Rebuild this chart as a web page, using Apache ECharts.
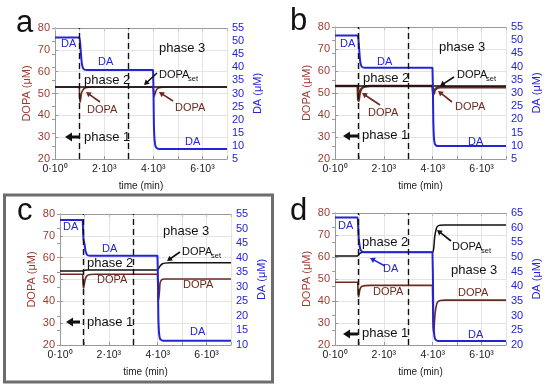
<!DOCTYPE html>
<html><head><meta charset="utf-8">
<script src="https://cdn.jsdelivr.net/npm/echarts@6/dist/echarts.min.js"></script>
<style>html,body{margin:0;padding:0;background:#fff}#c{width:550px;height:390px}</style>
</head><body><div id="c"></div>
<script>
// ---- data ----
var timeA   = [0,990,1000,1010,1025,1050,1075,1100,1150,1200,1300,1500,2000,3000,3990,4000,4010,4025,4050,4075,4100,4150,4200,4300,4500,5000,6000,7000];
var timeBCD = [0,930,940,950,965,990,1015,1040,1090,1140,1240,1440,2000,3000,3990,4000,4010,4025,4050,4075,4100,4150,4200,4300,4500,5000,6000,7000];
var phaseA = [1000, 3000];
var phaseBCD = [940, 3000];

var daA   = [51.4,51.4,51.4,50.5,49,46,43,41,39.5,39.1,39,39,39,39,39,39,30,18,12.5,10.5,9.7,9.1,8.9,8.8,8.8,8.8,8.8,8.8];
var setA  = [53,53,53,53,53,53,53,53,53,53,53,53,53,53,53,53,53,53,53,53,53,53,53,53,53,53,53,53];
var dopaA = [53,53,53,47,46,48,49.8,50.8,51.8,52.4,52.8,53,53,53,53,53,51,48.5,48.5,50,51,52,52.5,52.8,53,53,53,53];

var daB   = [51.8,51.8,51.8,51,49.5,46.5,43.5,41.5,40,39.7,39.6,39.6,39.6,39.6,39.6,39.6,30,19,13,11.2,10.5,10.1,9.9,9.9,9.9,9.9,9.9,9.9];
var setB  = [53.2,53.2,53.2,53.2,53.2,53.2,53.2,53.2,53.2,53.2,53.2,53.2,53.2,53.2,53.2,53.2,53.2,53.2,53.2,53.2,53.2,53.2,53.2,53.2,53.2,53.2,53.2,53.2];
var dopaB = [53.2,53.2,53.2,47.5,46.5,48.5,50,51,52,52.5,53,53.2,53.2,53.2,53.2,53.2,51,49.5,50,51,51.6,52.1,52.4,52.6,52.6,52.6,52.6,52.6];

var daC   = [52.9,52.9,52.9,48,46,45.2,44,42.5,41.2,40.8,40.7,40.7,40.7,40.7,40.7,40.7,32,20,14.5,12.8,12.1,11.7,11.5,11.5,11.5,11.5,11.5,11.5];
var setC  = [53.9,53.9,53.9,53.9,54,54.1,54.2,54.25,54.3,54.35,54.4,54.4,54.4,54.4,54.4,54.4,54.5,54.8,55.3,55.8,56.2,56.8,57.2,57.5,57.7,57.7,57.7,57.7];
var dopaC = [52.4,52.4,52.4,47,46,47.5,49,50.3,51.5,52,52.3,52.4,52.4,52.4,52.4,52.4,45,40,42,45,48.7,49.7,50.1,50.2,50.2,50.2,50.2,50.2];

var daD   = [63.5,63.5,63.5,60,57,55,53.5,52.6,52,51.7,51.6,51.6,51.6,51.6,51.6,51.6,42,30,24.5,22.8,22,21.6,21.4,21.4,21.4,21.4,21.4,21.4];
var setD  = [60.5,60.5,60.5,60.6,60.9,61.3,61.6,61.8,62,62.1,62.2,62.2,62.2,62.2,62.2,62.2,62.4,62.8,65,68.5,70.5,73,74,74.4,74.5,74.5,74.5,74.5];
var dopaD = [48.5,48.5,48.5,43,42,43.5,45,45.8,46.5,46.8,47,47.1,47.1,47.1,47.1,47.1,32,26,27,31,34.5,38,39.5,40.2,40.4,40.4,40.4,40.4];

var xTicks = {0:'0·10⁰', 2000:'2·10³', 4000:'4·10³', 6000:'6·10³'};
var daRanges = [[5,55],[5,55],[10,55],[20,65]];

// ---- layout ----
var grids = [
  {left:55, top:28, width:172, height:131},
  {left:335, top:27, width:171, height:132},
  {left:60, top:214, width:171, height:131},
  {left:335, top:213, width:171, height:132}
];
var BLUE='#2424d4', BROWN='#6b2a20', LBR='#9c3a2e';
var FONT='Liberation Sans';

function zip(t,v){return t.map(function(x,i){return [x,v[i]];});}
var panels = [
  {t:timeA, ph:phaseA, da:daA, set:setA, dopa:dopaA},
  {t:timeBCD, ph:phaseBCD, da:daB, set:setB, dopa:dopaB},
  {t:timeBCD, ph:phaseBCD, da:daC, set:setC, dopa:dopaC},
  {t:timeBCD, ph:phaseBCD, da:daD, set:setD, dopa:dopaD}
];

var xAxes=[], yAxes=[], series=[];
panels.forEach(function(p,i){
  xAxes.push({gridIndex:i, type:'value', min:0, max:7000, interval:1000,
    name:'time (min)', nameLocation:'middle', nameGap:22,
    nameTextStyle:{fontFamily:FONT, fontSize:10, color:'#222'},
    axisLine:{lineStyle:{color:'#999'}}, axisTick:{inside:true, length:3, lineStyle:{color:'#999'}},
    splitLine:{show:true, lineStyle:{color:'#e4e4e4'}},
    axisLabel:{fontFamily:FONT, fontSize:10.5, color:'#222', margin:5,
      formatter:function(v){return xTicks[v]!==undefined?xTicks[v]:'';}}
  });
  // top border
  xAxes.push({gridIndex:i, type:'value', min:0, max:7000, interval:1000, position:'top',
    axisLine:{onZero:false, lineStyle:{color:'#999'}}, axisTick:{inside:true,length:3,lineStyle:{color:'#bbb'}},
    axisLabel:{show:false}, splitLine:{show:false}});
  yAxes.push({gridIndex:i, type:'value', min:20, max:80, interval:10, position:'left',
    name:'DOPA (μM)', nameLocation:'middle', nameGap:23, nameRotate:90,
    nameTextStyle:{fontFamily:FONT, fontSize:11, color:LBR},
    axisLine:{show:true, lineStyle:{color:'#999'}}, axisTick:{show:true, inside:true, length:3, lineStyle:{color:'#999'}},
    splitLine:{show:true, lineStyle:{color:'#e4e4e4'}},
    axisLabel:{fontFamily:FONT, fontSize:11, color:LBR, margin:5}
  });
  yAxes.push({gridIndex:i, type:'value', min:daRanges[i][0], max:daRanges[i][1], interval:5, position:'right',
    name:'DA (μM)', nameLocation:'middle', nameGap:25, nameRotate:90,
    nameTextStyle:{fontFamily:FONT, fontSize:11, color:BLUE},
    axisLine:{show:true, lineStyle:{color:'#999'}}, axisTick:{show:true, inside:true, length:3, lineStyle:{color:'#999'}},
    splitLine:{show:false},
    axisLabel:{fontFamily:FONT, fontSize:11, color:BLUE, margin:5}
  });
  var xi=i*2, yl=i*2, yr=i*2+1;
  series.push({type:'line', xAxisIndex:xi, yAxisIndex:yl, data:zip(p.t,p.dopa), showSymbol:false, smooth:0.3,
    lineStyle:{color:BROWN, width:(i===1?2.6:1.6)}, z:2,
    markLine:{silent:true, symbol:['none','none'], label:{show:false},
      lineStyle:{color:'#111', type:[6,4], width:1.4},
      data:[{xAxis:p.ph[0]},{xAxis:p.ph[1]}]}});
  series.push({type:'line', xAxisIndex:xi, yAxisIndex:yl, data:zip(p.t,p.set), showSymbol:false, smooth:0.3,
    lineStyle:{color:'#111', width:1.5}, z:3});
  series.push({type:'line', xAxisIndex:xi, yAxisIndex:yr, data:zip(p.t,p.da), showSymbol:false, smooth:0.3,
    lineStyle:{color:BLUE, width:2}, z:4});
});

// ---- annotations ----
var G=[];
function txt(x,y,s,color,size){
  G.push({type:'text', x:x, y:y, z:50, style:{text:s, fill:color, font:size+'px "'+FONT+'"',
    align:'left', verticalAlign:'middle', textAlign:'left', textVerticalAlign:'middle'}});
}
function setLabel(x,y){
  txt(x,y,'DOPA','#111',11);
  txt(x+29,y+4,'set','#111',7.5);
}
function arrow(x1,y1,x2,y2,color,w,L,W){
  var dx=x2-x1, dy=y2-y1, len=Math.sqrt(dx*dx+dy*dy), ux=dx/len, uy=dy/len;
  var bx=x2-ux*L, by=y2-uy*L;
  G.push({type:'line', z:50, shape:{x1:x1,y1:y1,x2:bx+ux*1,y2:by+uy*1}, style:{stroke:color, lineWidth:w}});
  G.push({type:'polygon', z:50, shape:{points:[[x2,y2],[bx-uy*W,by+ux*W],[bx+uy*W,by-ux*W]]}, style:{fill:color}});
}
function letter(x,y,s){
  G.push({type:'text', x:x, y:y, z:50, style:{text:s, fill:'#111', font:'31px "'+FONT+'"', align:'left', verticalAlign:'top', textAlign:'left', textVerticalAlign:'top'}});
}
// panel c frame
G.push({type:'rect', z:40, shape:{x:4.5, y:195, width:268, height:187}, style:{fill:'none', stroke:'#6d6d6d', lineWidth:3}});

// a
letter(16,8,'a');
txt(61,44,'DA',BLUE,11); txt(98,62,'DA',BLUE,11); txt(185,142,'DA',BLUE,11);
txt(159,48,'phase 3','#111',13); txt(84,80,'phase 2','#111',13); txt(84,137,'phase 1','#111',13);
txt(87,110,'DOPA',BROWN,11); arrow(100,102,86,92,BROWN,1.6,5,3);
txt(175,108,'DOPA',BROWN,11); arrow(173,101,159,92,BROWN,1.6,5,3);
setLabel(159,75); arrow(157,73,144,85,'#111',1.6,5,3);
arrow(80,137,65,137,'#111',3,7,4.5);
// b
letter(290,6,'b');
txt(340,44,'DA',BLUE,11); txt(377,62,'DA',BLUE,11); txt(468,142,'DA',BLUE,11);
txt(439,47,'phase 3','#111',13); txt(363,78,'phase 2','#111',13); txt(362,135,'phase 1','#111',13);
txt(368,113,'DOPA',BROWN,11); arrow(380,105,362,93,BROWN,1.6,5,3);
txt(455,107,'DOPA',BROWN,11); arrow(452,102,438,91,BROWN,1.6,5,3);
setLabel(457,75); arrow(454,77,440,86,'#111',1.6,5,3);
arrow(358,136,343,136,'#111',3,7,4.5);
// c
letter(17,196,'c');
txt(63,227,'DA',BLUE,11); txt(102,249,'DA',BLUE,11); txt(190,332,'DA',BLUE,11);
txt(163,231,'phase 3','#111',13); txt(87,263,'phase 2','#111',13); txt(87,322,'phase 1','#111',13);
txt(97,280,'DOPA',BROWN,11); txt(183,285,'DOPA',BROWN,11);
setLabel(182,252); arrow(180,252,167,261,'#111',1.6,5,3);
arrow(80,322,66,322,'#111',3,7,4.5);
// d
letter(290,196,'d');
txt(338,226,'DA',BLUE,11); txt(383,269,'DA',BLUE,11); txt(468,335,'DA',BLUE,11);
arrow(385,266,370,258,BLUE,1.6,5,3);
txt(362,242,'phase 2','#111',13); txt(451,270,'phase 3','#111',13); txt(362,333,'phase 1','#111',13);
txt(373,292,'DOPA',BROWN,11); txt(458,293,'DOPA',BROWN,11);
setLabel(452,247); arrow(451,241,437,230,'#111',1.6,5,3);
arrow(358,334,343,334,'#111',3,7,4.5);

var chart = echarts.init(document.getElementById('c'), null, {renderer:'canvas'});
chart.setOption({
  animation:false, backgroundColor:'#fff',
  grid:grids.map(function(g){return Object.assign({show:false, containLabel:false}, g);}),
  xAxis:xAxes, yAxis:yAxes, series:series, graphic:G
});
</script></body></html>
